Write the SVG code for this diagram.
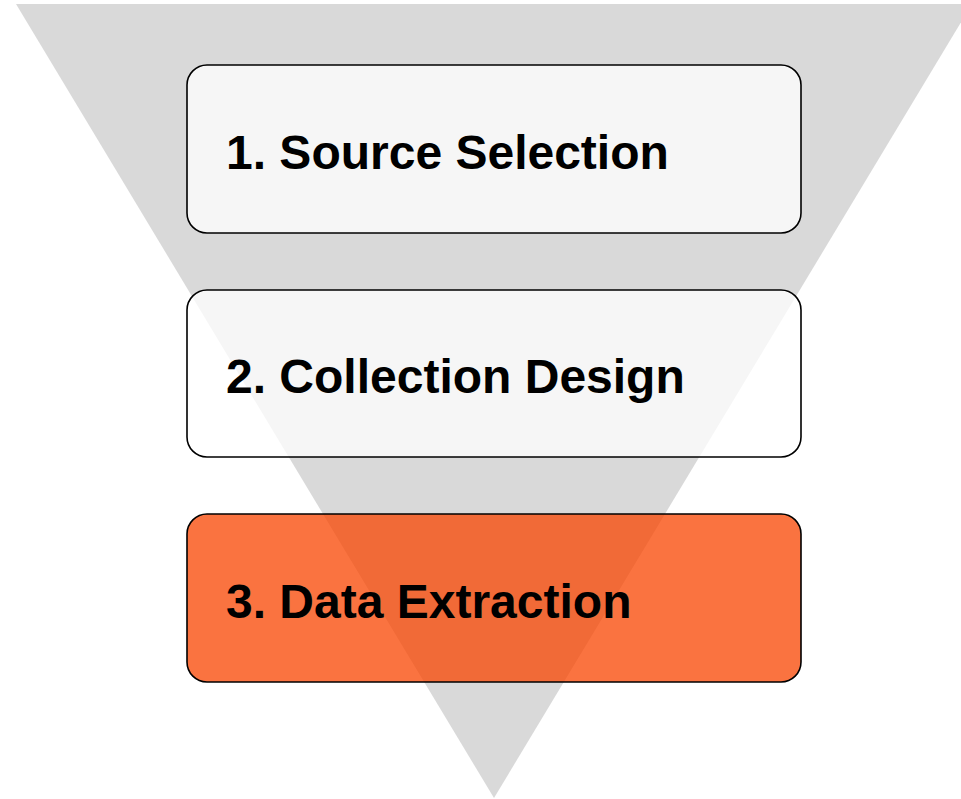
<svg xmlns="http://www.w3.org/2000/svg" width="961" height="799" viewBox="0 0 961 799">
  <style>
    .stage { stroke: #000000; stroke-width: 1.6; fill-opacity: 0.75; }
    .plain { fill: #ffffff; }
    .active { fill: #f84400; }
    .label { font-family: "Liberation Sans", Arial, sans-serif; font-weight: bold; font-size: 48px; fill: #000000; }
  </style>
  <rect width="961" height="799" fill="#ffffff"/>
  <!-- funnel backdrop -->
  <g id="funnel">
    <polygon points="16,4 972,4 494,798" fill="#d9d9d9"/>
  </g>
  <g id="connectors"></g>
  <g id="stage-1">
    <rect class="stage plain" x="187" y="65" width="614" height="168" rx="20" ry="20"/>
    <text class="label" x="226" y="169">1. Source Selection</text>
  </g>
  <g id="stage-2">
    <rect class="stage plain" x="187" y="290" width="614" height="167" rx="20" ry="20"/>
    <text class="label" x="226" y="393">2. Collection Design</text>
  </g>
  <g id="stage-3">
    <rect class="stage active" x="187" y="514" width="614" height="168" rx="20" ry="20"/>
    <text class="label" x="226" y="618">3. Data Extraction</text>
  </g>
</svg>
